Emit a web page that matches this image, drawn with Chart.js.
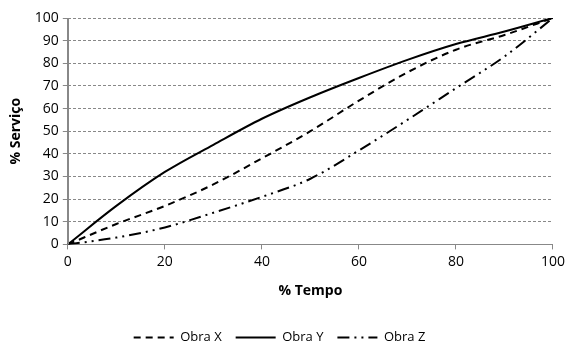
<!DOCTYPE html>
<html>
<head>
<meta charset="utf-8">
<script src="https://cdn.jsdelivr.net/npm/chart.js@4/dist/chart.umd.min.js"></script>
<style>
html,body{margin:0;padding:0;background:#fff;}
#wrap{width:569px;height:360px;}
</style>
</head>
<body>
<div id="wrap"><canvas id="c" width="569" height="360"></canvas></div>
<script>
const xValues = [0, 10, 20, 30, 40, 50, 60, 70, 80, 90, 100];
const obraX = [0, 9, 17, 26.5, 38, 50, 63.5, 76, 86, 92.5, 100];
const obraY = [0, 17, 32, 44, 55.5, 65, 73.5, 81.5, 88.5, 94, 100];
const obraZ = [0, 3, 7.5, 14, 21, 29, 41.5, 55, 69, 83, 100];
const seriesNames = ["Obra X", "Obra Y", "Obra Z"];
const xTicks = [0, 20, 40, 60, 80, 100];
const yTicks = [0, 10, 20, 30, 40, 50, 60, 70, 80, 90, 100];

const toPts = arr => arr.map((v, i) => ({x: xValues[i], y: v}));
const FONT = "'Open Sans', 'Liberation Sans', sans-serif";

new Chart(document.getElementById('c'), {
  type: 'line',
  data: {
    datasets: [
      {label: seriesNames[0], data: toPts(obraX), borderColor: '#000', borderWidth: 2, borderDash: [7, 5], pointRadius: 0, cubicInterpolationMode: 'monotone', fill: false},
      {label: seriesNames[1], data: toPts(obraY), borderColor: '#000', borderWidth: 2, borderDash: [], pointRadius: 0, cubicInterpolationMode: 'monotone', fill: false},
      {label: seriesNames[2], data: toPts(obraZ), borderColor: '#000', borderWidth: 2, borderDash: [12, 5, 2, 5, 2, 5], pointRadius: 0, cubicInterpolationMode: 'monotone', fill: false}
    ]
  },
  options: {
    responsive: false,
    animation: false,
    devicePixelRatio: 1,
    layout: {padding: {left: 4, right: 14, top: 18, bottom: 6}},
    plugins: {
      legend: {
        position: 'bottom',
        labels: {
          usePointStyle: true,
          pointStyle: 'line',
          pointStyleWidth: 40,
          color: '#000',
          font: {family: FONT, size: 13},
          padding: 14,
          generateLabels: chart => chart.data.datasets.map((ds, i) => ({
            text: ds.label,
            datasetIndex: i,
            fillStyle: '#000',
            strokeStyle: '#000',
            fontColor: '#000',
            lineWidth: 2,
            lineDash: ds.borderDash,
            pointStyle: 'line',
            hidden: false
          }))
        }
      },
      tooltip: {enabled: false}
    },
    scales: {
      x: {
        type: 'linear',
        min: 0, max: 100,
        afterBuildTicks: s => { s.ticks = xTicks.map(v => ({value: v})); },
        grid: {drawOnChartArea: false, drawTicks: true, tickLength: 5, color: '#888'},
        border: {color: '#888'},
        ticks: {color: '#000', font: {family: FONT, size: 14}, padding: 4, maxRotation: 0},
        title: {display: true, text: '% Tempo', color: '#000', font: {family: FONT, size: 14, weight: 'bold'}, padding: {top: 8, bottom: 18}}
      },
      y: {
        min: 0, max: 100,
        afterBuildTicks: s => { s.ticks = yTicks.map(v => ({value: v})); },
        grid: {color: '#888', tickLength: 5, lineWidth: 1},
        border: {color: '#888', dash: [3, 2]},
        ticks: {color: '#000', font: {family: FONT, size: 14}, padding: 4},
        title: {display: true, text: '% Serviço', color: '#000', font: {family: FONT, size: 14, weight: 'bold'}, padding: {bottom: 6}}
      }
    }
  },
  plugins: [{
    id: 'solidYAxis',
    afterDraw(chart) {
      const ctx = chart.ctx, a = chart.chartArea;
      ctx.save();
      ctx.setLineDash([]);
      ctx.strokeStyle = '#888';
      ctx.lineWidth = 1;
      ctx.beginPath();
      ctx.moveTo(Math.round(a.left) + 0.5, a.top);
      ctx.lineTo(Math.round(a.left) + 0.5, a.bottom);
      ctx.stroke();
      ctx.restore();
    }
  }]
});
</script>
</body>
</html>
